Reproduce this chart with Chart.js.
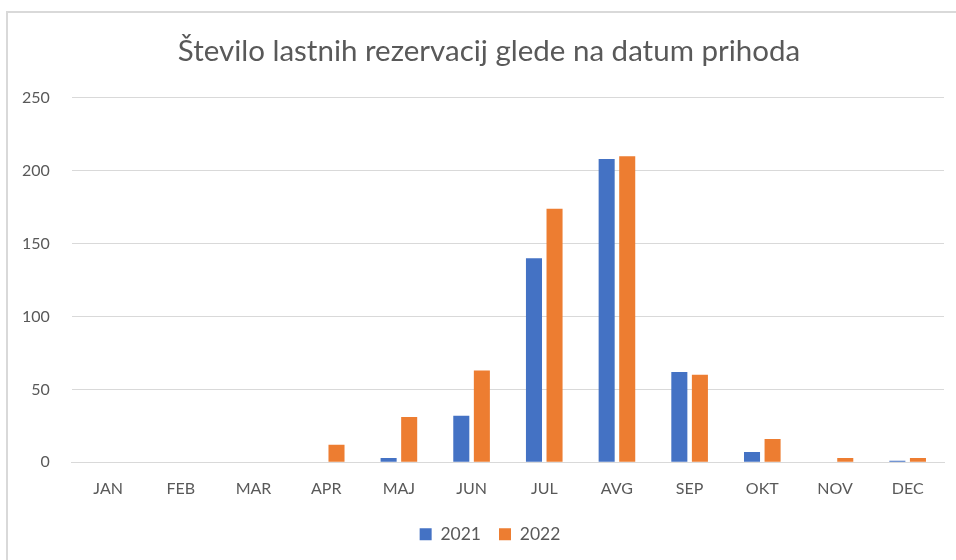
<!DOCTYPE html>
<html lang="sl">
<head>
<meta charset="UTF-8">
<title>Število lastnih rezervacij</title>
<script src="https://cdn.jsdelivr.net/npm/chart.js"></script>
<style>
    body { margin: 0; background: #fff; }
    .frame {
        position: absolute;
        left: 6px;
        top: 11px;
        width: 960px;
        height: 560px;
        border: 2px solid #d9d9d9;
        box-sizing: border-box;
    }
    .frame canvas { display: block; }
</style>
</head>
<body>
<div class="frame">
    <canvas id="chart" width="951" height="548"></canvas>
</div>
<script>
const months = ['JAN', 'FEB', 'MAR', 'APR', 'MAJ', 'JUN', 'JUL', 'AVG', 'SEP', 'OKT', 'NOV', 'DEC'];
const values2021 = [0, 0, 0, 0, 3, 32, 140, 208, 62, 7, 0, 1];
const values2022 = [0, 0, 0, 12, 31, 63, 174, 210, 60, 16, 3, 3];
const yTicks = [0, 50, 100, 150, 200, 250];

const textColor = '#595959';
const fontFamily = 'Lato, "Open Sans", sans-serif';

// the original frame is wider than the crop, so title and legend sit right of our centre
const shiftBoxes = {
    id: 'shiftBoxes',
    afterLayout(chart) {
        const t = chart.titleBlock;
        if (t) { t.left += 17; t.right += 17; }
        const l = chart.legend;
        if (l) { l.left += 18; l.right += 18; }
    }
};

new Chart(document.getElementById('chart'), {
    type: 'bar',
    data: {
        labels: months,
        datasets: [
            { label: '2021', data: values2021, backgroundColor: '#4472C4' },
            { label: '2022', data: values2022, backgroundColor: '#ED7D31' }
        ]
    },
    options: {
        responsive: false,
        animation: false,
        datasets: {
            bar: { categoryPercentage: 0.566, barPercentage: 0.78 }
        },
        layout: { padding: { left: -8, right: 15, top: 9, bottom: 8 } },
        scales: {
            x: {
                grid: { display: false },
                border: { color: '#d9d9d9', width: 1 },
                ticks: { color: textColor, font: { family: fontFamily, size: 16 }, padding: 9 }
            },
            y: {
                min: 0,
                max: 250,
                afterBuildTicks: (axis) => { axis.ticks = yTicks.map(v => ({ value: v })); },
                grid: { color: '#d9d9d9', drawTicks: false },
                border: { display: false },
                ticks: { color: textColor, font: { family: fontFamily, size: 16 }, padding: 22 }
            }
        },
        plugins: {
            title: {
                display: true,
                text: 'Število lastnih rezervacij glede na datum prihoda',
                color: textColor,
                font: { family: fontFamily, size: 29.5, weight: 'normal' },
                padding: { top: 12, bottom: 28.5 }
            },
            legend: {
                position: 'bottom',
                labels: {
                    color: textColor,
                    font: { family: fontFamily, size: 17.5 },
                    boxWidth: 12,
                    boxHeight: 12,
                    padding: 18
                }
            },
            tooltip: { enabled: false }
        }
    },
    plugins: [shiftBoxes]
});
</script>
</body>
</html>
